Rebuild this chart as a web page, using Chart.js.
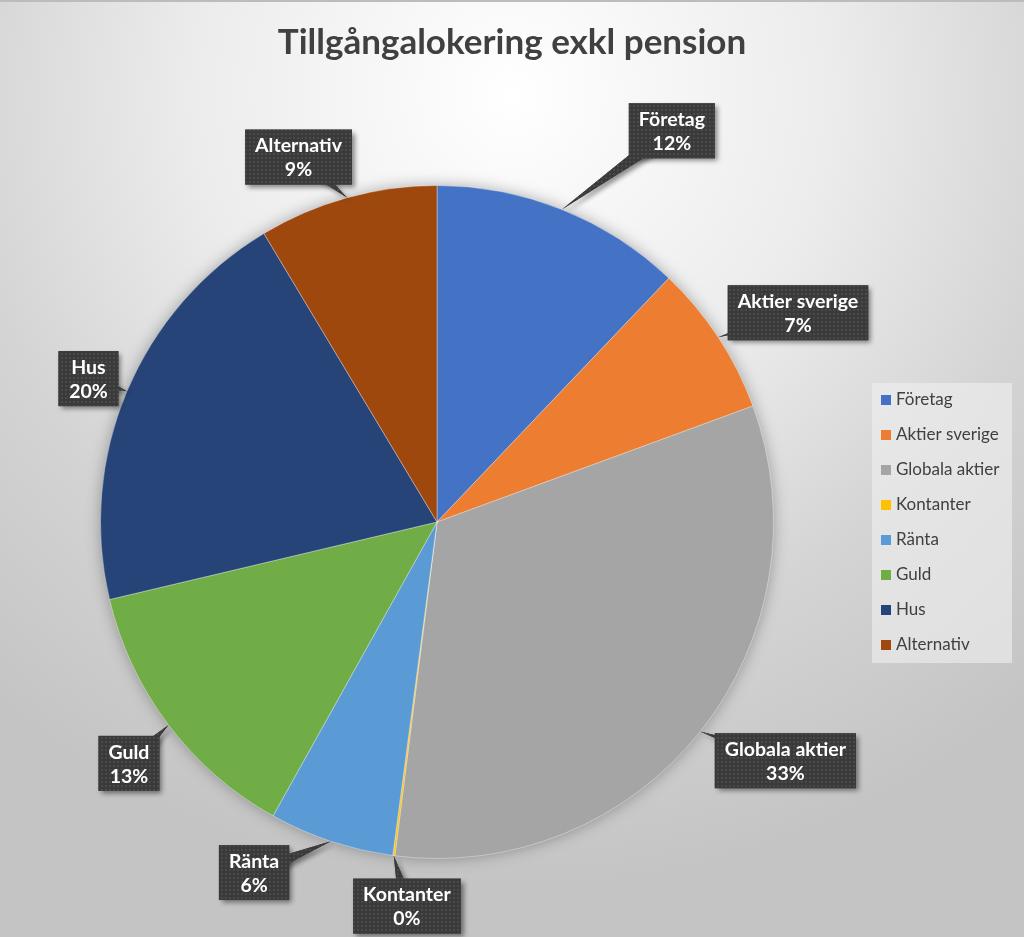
<!DOCTYPE html>
<html>
<head>
<meta charset="utf-8">
<script src="https://cdn.jsdelivr.net/npm/chart.js@4.4.1/dist/chart.umd.min.js"></script>
<style>
    html, body { margin: 0; padding: 0; }
    #wrap {
        width: 1024px;
        height: 937px;
        position: relative;
        background: radial-gradient(ellipse 78% 85% at 50% 10%, #ffffff 0%, #ececec 40%, #d4d4d4 70%, #c4c4c4 100%);
        box-shadow: inset 0 2px 0 #bcbcbc;
    }
    canvas { display: block; }
</style>
</head>
<body>
<div id="wrap"><canvas id="allocChart" width="1024" height="937"></canvas></div>
<script>
// Chart data
const chartTitle = 'Tillgångalokering exkl pension';
const categories = ['Företag', 'Aktier sverige', 'Globala aktier', 'Kontanter', 'Ränta', 'Guld', 'Hus', 'Alternativ'];
const shares = [12.1, 7.3, 32.6, 0.1, 6.0, 13.2, 20.1, 8.6];
const sliceColors = ['#4472C4', '#ED7D31', '#A5A5A5', '#FFC000', '#5B9BD5', '#70AD47', '#264478', '#9E480E'];

// Callout placement: distance from centre (in radii) and angle nudge (degrees)
const calloutDistance = [1.356, 1.24, 1.255, 1.145, 1.175, 1.163, 1.12, 1.16];
const calloutNudge = [9.2, 3.2, -4.1, -2.9, 9.2, -1, -0.5, -5.3];

const FONT = 'Lato, "Open Sans", sans-serif';

function makeDotPattern(ctx) {
    const tile = document.createElement('canvas');
    tile.width = 4;
    tile.height = 4;
    const t = tile.getContext('2d');
    t.fillStyle = '#3a3a3a';
    t.fillRect(0, 0, 4, 4);
    t.fillStyle = '#4a4a4a';
    t.fillRect(1, 1, 2, 2);
    return ctx.createPattern(tile, 'repeat');
}

// Title centred on the whole canvas (the pie sits left of centre)
const pageTitle = {
    id: 'pageTitle',
    afterDraw(chart) {
        const ctx = chart.ctx;
        ctx.save();
        ctx.font = 'bold 35px ' + FONT;
        ctx.fillStyle = '#404040';
        ctx.textAlign = 'center';
        ctx.textBaseline = 'middle';
        ctx.fillText(chartTitle, chart.width / 2, 43);
        ctx.restore();
    }
};

// Soft shadow under the whole pie
const pieShadow = {
    id: 'pieShadow',
    beforeDatasetsDraw(chart) {
        const arc = chart.getDatasetMeta(0).data[0];
        if (!arc) return;
        const p = arc.getProps(['x', 'y', 'outerRadius'], true);
        const ctx = chart.ctx;
        ctx.save();
        ctx.shadowColor = 'rgba(0, 0, 0, 0.35)';
        ctx.shadowBlur = 16;
        ctx.fillStyle = '#999';
        ctx.beginPath();
        ctx.arc(p.x, p.y, p.outerRadius - 1, 0, Math.PI * 2);
        ctx.fill();
        ctx.restore();
    }
};

// Data callouts: dark dotted boxes with a pointer to the slice edge
const callouts = {
    id: 'callouts',
    afterDatasetsDraw(chart) {
        const ctx = chart.ctx;
        const meta = chart.getDatasetMeta(0);
        const total = shares.reduce((a, b) => a + b, 0);
        const pattern = makeDotPattern(ctx);
        ctx.save();
        ctx.font = 'bold 19.5px ' + FONT;

        meta.data.forEach((arc, i) => {
            const p = arc.getProps(['x', 'y', 'startAngle', 'endAngle', 'outerRadius'], true);
            const mid = (p.startAngle + p.endAngle) / 2;
            const tipX = p.x + Math.cos(mid) * p.outerRadius;
            const tipY = p.y + Math.sin(mid) * p.outerRadius;
            const a = mid + calloutNudge[i] * Math.PI / 180;
            const cx = p.x + Math.cos(a) * p.outerRadius * calloutDistance[i];
            const cy = p.y + Math.sin(a) * p.outerRadius * calloutDistance[i];

            const lines = [categories[i], Math.round(shares[i] / total * 100) + '%'];
            const w = Math.max(60, Math.max(...lines.map(t => ctx.measureText(t).width)) + 20);
            const h = 55;
            const bx = cx - w / 2, by = cy - h / 2;

            // pointer base perpendicular to the centre->tip direction
            const dx = tipX - cx, dy = tipY - cy;
            const len = Math.hypot(dx, dy) || 1;
            const nx = -dy / len * 8, ny = dx / len * 8;

            const wedge = () => {
                ctx.beginPath();
                ctx.moveTo(cx + nx, cy + ny);
                ctx.lineTo(tipX, tipY);
                ctx.lineTo(cx - nx, cy - ny);
                ctx.closePath();
            };

            ctx.shadowColor = 'rgba(0, 0, 0, 0.45)';
            ctx.shadowBlur = 5;
            ctx.shadowOffsetX = 3;
            ctx.shadowOffsetY = 3;
            ctx.fillStyle = '#3d3d3d';
            wedge();
            ctx.fill();
            ctx.fillRect(bx, by, w, h);

            ctx.shadowColor = 'transparent';
            ctx.fillStyle = pattern;
            wedge();
            ctx.fill();
            ctx.fillRect(bx, by, w, h);

            ctx.fillStyle = '#ffffff';
            ctx.textAlign = 'center';
            ctx.textBaseline = 'middle';
            ctx.fillText(lines[0], cx, cy - 11);
            ctx.fillText(lines[1], cx, cy + 13);
        });
        ctx.restore();
    }
};

// Legend box drawn at the right, built from the same arrays
const sideLegend = {
    id: 'sideLegend',
    afterDraw(chart, args, opts) {
        const ctx = chart.ctx;
        ctx.save();
        ctx.fillStyle = 'rgba(240, 240, 240, 0.6)';
        ctx.fillRect(opts.x, opts.y, opts.width, opts.height);
        ctx.font = '17px ' + FONT;
        ctx.textBaseline = 'middle';
        ctx.textAlign = 'left';
        categories.forEach((label, i) => {
            const yc = opts.y + 17 + i * opts.rowHeight;
            ctx.fillStyle = sliceColors[i];
            ctx.fillRect(opts.x + 9, yc - 5, 10, 10);
            ctx.fillStyle = '#404040';
            ctx.fillText(label, opts.x + 24, yc);
        });
        ctx.restore();
    }
};

new Chart(document.getElementById('allocChart'), {
    type: 'pie',
    data: {
        labels: categories,
        datasets: [{
            data: shares,
            backgroundColor: sliceColors,
            borderColor: 'rgba(255, 255, 255, 0.35)',
            borderWidth: 1
        }]
    },
    options: {
        responsive: false,
        animation: false,
        layout: {
            padding: { left: 100, right: 250, top: 185, bottom: 78 }
        },
        plugins: {
            title: { display: false },
            legend: { display: false },
            tooltip: { enabled: false },
            sideLegend: { x: 872, y: 383, width: 140, height: 280, rowHeight: 35 }
        }
    },
    plugins: [pieShadow, callouts, sideLegend, pageTitle]
});
</script>
</body>
</html>
